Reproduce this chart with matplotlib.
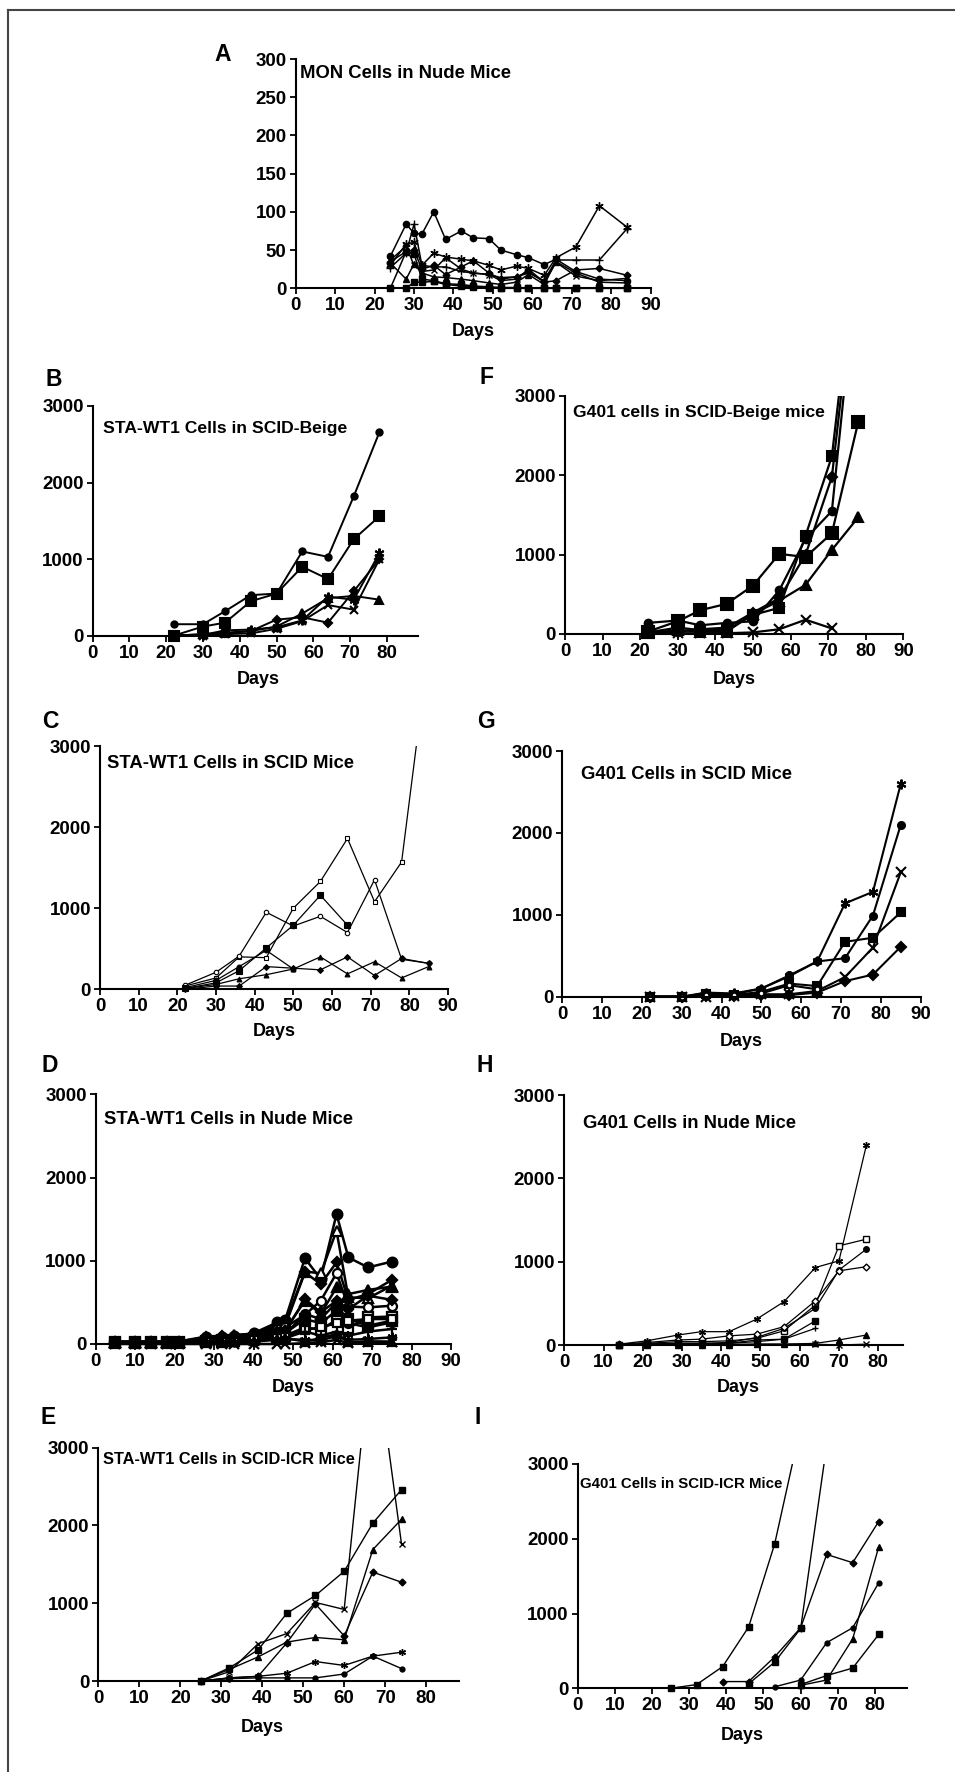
import numpy as np
import matplotlib
matplotlib.use("Agg")
import matplotlib.pyplot as plt
from matplotlib.lines import Line2D
from matplotlib.patches import Rectangle

plt.rcParams['font.family'] = ['Liberation Sans', 'DejaVu Sans']
plt.rcParams['font.weight'] = 'bold'

# ---------------- data ----------------
# A: MON cells in nude mice
A_days = [24, 28, 30, 32, 35, 38, 42, 45, 49, 52, 56, 59, 63, 66, 71, 77, 84]
A_circle = [42, 84, 72, 71, 100, 64, 75, 66, 65, 50, 44, 40, 31, 38, 22, 12, 10]
A_star = [30, 58, 60, 30, 46, 41, 38, 36, 30, 24, 29, 26, 17, 40, 54, 108, 80]
A_plus = [27, 46, 84, 30, 28, 28, 22, 20, 18, 14, 15, 20, 10, 37, 37, 37, 78]
A_diamond = [35, 48, 50, 25, 30, 18, 28, 36, 20, 12, 15, 22, 8, 10, 24, 26, 17]
A_triangle = [33, 12, 32, 20, 15, 14, 12, 10, 7, 5, 8, 18, 5, 35, 20, 8, 7]
A_x = [37, 55, 30, 22, 24, 40, 25, 20, 18, 10, 12, 25, 8, 34, 16, 10, 13]
A_square1 = [0, 48, 45, 12, 10, 6, 5, 3, 2, 1, 1, 0, 0, 0, 0, 0, 0]
A_square2 = [None, 0, 8, 8, 9, 5, 3, 2, 1, 0, 0, 0, 0, 0, 0, 0, 0]

# B: STA-WT1 cells in SCID-Beige
B_days = [22, 30, 36, 43, 50, 57, 64, 71, 78]
B_circle = [150, 150, 320, 530, 550, 1100, 1030, 1820, 2660]
B_square = [0, 120, 170, 450, 550, 900, 740, 1260, 1560]
B_triangle = [0, 20, 30, 60, 120, 290, 490, 520, 470]
B_star = [0, 10, 70, 80, 110, 200, 510, 470, 1080]
B_x = [0, 0, 20, 30, 90, 190, 400, 340, 1000]
B_diamond = [0, 20, 40, 60, 210, 240, 170, 580, 1000]

# F: G401 cells in SCID-Beige
F_days = [22, 30, 36, 43, 50, 57, 64, 71, 78]
F_square1 = [30, 160, 300, 380, 610, 1010, 970, 1270, 2670]
F_square2 = [20, 80, 50, 50, 240, 330, 1240, 2240, 5100]
F_diamond = [20, 30, 60, 80, 270, 450, 1000, 1980, 4900]
F_circle = [140, 170, 110, 140, 160, 550, 1200, 1550, 4800]
F_triangle = [10, 50, 30, 30, 250, 420, 620, 1060, 1470]
F_x = [10, 10, 10, 10, 20, 60, 180, 70, None]

# C: STA-WT1 cells in SCID mice
C_days = [22, 30, 36, 43, 50, 57, 64, 71, 78, 85]
C_osquare = [40, 140, 400, 390, 1000, 1330, 1860, 1080, 1570, 4200]
C_odiamond = [50, 210, 410, 950, 780, 900, 700, 1350, 370, 320]
C_square = [10, 80, 230, 510, 790, 1160, 790, None, None, None]
C_circle = [20, 110, 280, 480, 250, None, None, None, None, None]
C_triangle = [10, 60, 130, 180, 250, 400, 190, 340, 140, 280]
C_diamond = [0, 40, 40, 280, 260, 240, 400, 170, 380, 320]

# G: G401 cells in SCID mice
G_days = [22, 30, 36, 43, 50, 57, 64, 71, 78, 85]
G_star = [0, 0, 50, 40, 100, 250, 430, 1140, 1280, 2600]
G_circle = [0, 0, 40, 30, 100, 260, 430, 470, 990, 2100]
G_x = [0, 0, 0, 10, 30, 30, 70, 240, 600, 1520]
G_square = [0, 0, 30, 20, 60, 160, 130, 670, 720, 1030]
G_diamond = [0, 0, 10, 10, 20, 20, 50, 190, 270, 610]
G_ocircle = [0, 0, 20, 20, 40, 140, 90, None, None, None]

# D: STA-WT1 cells in nude mice
D_days = [5, 10, 14, 18, 21, 28, 32, 35, 40, 46, 48, 53, 57, 61, 64, 69, 75]
D_circle1 = [30, 30, 30, 30, 30, 80, 90, 100, 130, 260, 290, 1030, 780, 1560, 1040, 920, 990]
D_otri = [20, 20, 20, 20, 20, 70, 80, 110, 120, 230, 250, 870, 850, 1360, 560, 550, 700]
D_diamond1 = [30, 30, 30, 30, 30, 90, 100, 90, 120, 200, 220, 860, 720, 980, 530, 600, 770]
D_ocircle = [20, 20, 20, 20, 20, 60, 70, 80, 100, 180, 200, 350, 520, 850, 450, 440, 460]
D_triangle = [20, 20, 20, 20, 20, 50, 60, 70, 90, 150, 170, 520, 360, 680, 600, 650, 690]
D_diamond2 = [20, 20, 20, 20, 20, 50, 50, 60, 80, 140, 150, 540, 380, 520, 420, 580, 530]
D_osquare1 = [10, 10, 10, 10, 10, 30, 30, 40, 60, 80, 100, 200, 170, 290, 190, 320, 330]
D_square = [20, 20, 20, 20, 20, 40, 50, 50, 70, 110, 130, 300, 250, 400, 300, 220, 280]
D_circle2 = [20, 20, 20, 20, 20, 40, 40, 50, 60, 100, 120, 360, 300, 500, 250, 200, 260]
D_osquare2 = [10, 10, 10, 10, 10, 20, 30, 30, 50, 70, 80, 170, 200, 250, 280, 300, 300]
D_plus = [10, 10, 10, 10, 10, 20, 30, 30, 40, 60, 70, 150, 100, 150, 100, 150, 180]
D_star = [10, 10, 10, 10, 10, 20, 20, 20, 30, 50, 60, 50, 40, 100, 50, 60, 80]
D_tri2 = [10, 10, 10, 10, 10, 20, 20, 30, 40, 60, 70, 30, 70, 120, 20, 30, 20]
D_x = [0, 0, 0, 0, 0, 0, 0, 0, 0, 0, 0, 10, 20, 50, 10, 30, 30]

# H: G401 cells in nude mice
H_days = [14, 21, 29, 35, 42, 49, 56, 64, 70, 77]
H_star = [10, 50, 120, 160, 160, 310, 520, 930, 1010, 2400]
H_osquare = [0, 20, 40, 40, 50, 80, 170, 480, 1190, 1270]
H_circle = [0, 10, 20, 20, 30, 90, 200, 440, 900, 1150]
H_odiamond = [10, 30, 60, 70, 110, 130, 220, 530, 890, 940]
H_square = [0, 10, 20, 20, 20, 60, 70, 290, None, None]
H_plus = [0, 10, 10, 10, 20, 40, 70, 200, None, None]
H_triangle = [0, 0, 0, 0, 0, 10, 10, 20, 60, 120]
H_x = [0, 0, 10, 10, 10, 10, 10, 10, 0, 10]

# E: STA-WT1 cells in SCID-ICR mice
E_days = [25, 32, 39, 46, 53, 60, 67, 74]
E_square = [0, 170, 400, 870, 1100, 1410, 2030, 2460]
E_triangle = [0, 150, 310, 500, 560, 530, 1690, 2080]
E_x = [0, 120, 480, 610, 1010, 920, 4500, 1760]
E_diamond = [0, 40, 60, 490, 990, 580, 1400, 1270]
E_star = [0, 40, 60, 100, 250, 200, 320, 370]
E_circle = [0, 30, 40, 40, 40, 90, 320, 160]

# I: G401 cells in SCID-ICR mice
I_days = [25, 32, 39, 46, 53, 60, 67, 74, 81]
I_square1 = [0, 50, 290, 820, 1930, 3500, None, None, None]
I_square2 = [None, None, None, 60, 350, 800, 3250, None, None]
I_diamond = [None, None, 90, 90, 420, 810, 1790, 1680, 2230]
I_circle = [None, None, None, None, 20, 110, 610, 810, 1410]
I_triangle = [None, None, None, None, None, 40, 110, 660, 1890]
I_square3 = [None, None, None, None, None, 50, 170, 270, 720]

# ---------------- figure ----------------
W, H = 955, 1772
fig = plt.figure(figsize=(W / 100, H / 100), dpi=100)

TICK_FS = 13.5
DAYS_FS = 13
LETTER_FS = 16.5


def arr(v):
    return np.array([np.nan if x is None else x for x in v], dtype=float)


def fx(x):
    return x / W


def fy(y):
    return 1 - y / H


def make_axes(x0, x1, ytop, ybot, xmax, ymax, xticks, yticks):
    ax = fig.add_axes([fx(x0), fy(ybot), fx(x1 - x0), (ybot - ytop) / H])
    ax.set_xlim(0, xmax)
    ax.set_ylim(0, ymax)
    ax.set_xticks(xticks)
    ax.set_yticks(yticks)
    for s in ['top', 'right']:
        ax.spines[s].set_visible(False)
    for s in ['left', 'bottom']:
        ax.spines[s].set_linewidth(1.5)
    ax.tick_params(direction='out', length=4, width=1.3, pad=2.5,
                   labelsize=TICK_FS)
    for lab in ax.get_xticklabels() + ax.get_yticklabels():
        lab.set_fontweight('bold')
    ax.patch.set_alpha(0)
    return ax


def draw(ax, days, vals, marker, ms, lw, mfc='black', mew=1.0):
    line, = ax.plot(days, arr(vals), color='black', lw=lw, marker=marker,
                    ms=ms, mfc=mfc, mec='black', mew=mew)
    clip = Rectangle((-0.05, -0.08), 1.1, 1.08, transform=ax.transAxes)
    line.set_clip_path(clip)
    return line


def label(x, y, s, size=LETTER_FS, ha='center', va='center'):
    fig.text(fx(x), fy(y), s, fontsize=size, fontweight='bold', ha=ha, va=va)


AST = (6, 2, 0)
x90 = list(range(0, 91, 10))
x80 = list(range(0, 81, 10))
y3k = [0, 1000, 2000, 3000]

# border
fig.add_artist(Line2D([fx(7.5), fx(W + 5)], [fy(10), fy(10)], color='#444444', lw=1.5, transform=fig.transFigure))
fig.add_artist(Line2D([fx(7.5), fx(7.5)], [fy(10), fy(H + 5)], color='#444444', lw=1.5, transform=fig.transFigure))

# Panel A
ax = make_axes(295.7, 650.7, 59, 288.3, 90, 300, x90, [0, 50, 100, 150, 200, 250, 300])
for vals, m, ms, mfc in [(A_circle, 'o', 4.5, 'black'), (A_star, AST, 6, 'black'),
                         (A_plus, '+', 6, 'black'), (A_diamond, 'D', 3.5, 'black'),
                         (A_triangle, '^', 4, 'black'), (A_x, 'x', 5, 'black'),
                         (A_square1, 's', 5, 'black'), (A_square2, 's', 5, 'black')]:
    draw(ax, A_days, vals, m, ms, 1.1, mfc)
label(223, 54.5, 'A')
label(300, 73, 'MON Cells in Nude Mice', 13.3, ha='left')
label(473, 332, 'Days', DAYS_FS)

# Panel B
ax = make_axes(92.7, 417.7, 406, 635.7, 88.4, 3000, x80, y3k)
for vals, m, ms, mfc in [(B_circle, 'o', 4.5, 'black'), (B_square, 's', 6.5, 'black'),
                         (B_triangle, '^', 5.5, 'black'), (B_star, AST, 7, 'black'),
                         (B_x, 'x', 6, 'black'), (B_diamond, 'D', 4.5, 'black')]:
    draw(ax, B_days, vals, m, ms, 1.4, mfc, mew=1.5)
label(54, 380, 'B')
label(103, 428, 'STA-WT1 Cells in SCID-Beige', 12.6, ha='left')
label(258, 679, 'Days', DAYS_FS)

# Panel F
ax = make_axes(565, 903.3, 396, 634, 90, 3000, x90, y3k)
for vals, m, ms, mfc in [(F_square1, 's', 8.5, 'black'), (F_square2, 's', 7, 'black'),
                         (F_diamond, 'D', 5, 'black'), (F_circle, 'o', 5.5, 'black'),
                         (F_triangle, '^', 6.5, 'black'), (F_x, 'x', 6.5, 'black')]:
    draw(ax, F_days, vals, m, ms, 1.6, mfc, mew=1.5)
label(486, 377, 'F')
label(573, 413, 'G401 cells in SCID-Beige mice', 12.6, ha='left')
label(734, 679, 'Days', DAYS_FS)

# Panel C
ax = make_axes(100, 448, 746, 989.3, 90, 3000, x90, y3k)
for vals, m, ms, mfc in [(C_osquare, 's', 3.5, 'white'), (C_odiamond, 'o', 3.2, 'white'),
                         (C_square, 's', 4.5, 'black'), (C_circle, 'o', 3.5, 'black'),
                         (C_triangle, '^', 3.5, 'black'), (C_diamond, 'D', 3, 'black')]:
    draw(ax, C_days, vals, m, ms, 0.9, mfc, mew=0.8)
label(50, 722, 'C')
label(107, 764, 'STA-WT1 Cells in SCID Mice', 13.3, ha='left')
label(274, 1032, 'Days', DAYS_FS)

# Panel G
ax = make_axes(562.3, 920.7, 751, 996.7, 90, 3000, x90, y3k)
for vals, m, ms, mfc in [(G_star, AST, 7, 'black'), (G_circle, 'o', 5, 'black'),
                         (G_x, 'x', 6.5, 'black'), (G_square, 's', 6, 'black'),
                         (G_diamond, 'D', 5, 'black'), (G_ocircle, 'o', 4, 'white')]:
    draw(ax, G_days, vals, m, ms, 1.5, mfc, mew=1.5)
label(486, 722, 'G')
label(580.7, 774, 'G401 Cells in SCID Mice', 13.3, ha='left')
label(741.5, 1042, 'Days', DAYS_FS)

# Panel D
ax = make_axes(95.7, 451, 1094.3, 1344, 90, 3000, x90, y3k)
for vals, m, ms, mfc in [(D_circle1, 'o', 7, 'black'), (D_otri, '^', 7, 'white'),
                         (D_diamond1, 'D', 5.5, 'black'), (D_ocircle, 'o', 6.5, 'white'),
                         (D_triangle, '^', 6.5, 'black'), (D_diamond2, 'D', 5.5, 'black'),
                         (D_osquare1, 's', 6.5, 'white'), (D_square, 's', 6.5, 'black'),
                         (D_circle2, 'o', 6.5, 'black'), (D_osquare2, 's', 6, 'white'),
                         (D_plus, '+', 7, 'black'), (D_star, AST, 7, 'black'),
                         (D_tri2, '^', 6, 'black'), (D_x, 'x', 7, 'black')]:
    draw(ax, D_days, vals, m, ms, 1.8, mfc, mew=1.6)
label(50, 1066, 'D')
label(104, 1119, 'STA-WT1 Cells in Nude Mice', 13.3, ha='left')
label(293, 1388, 'Days', DAYS_FS)

# Panel H
ax = make_axes(564.3, 903.3, 1095, 1345, 86.4, 3000, x80, y3k)
for vals, m, ms, mfc in [(H_star, AST, 5, 'black'), (H_osquare, 's', 4.5, 'white'),
                         (H_circle, 'o', 4, 'black'), (H_odiamond, 'D', 3.5, 'white'),
                         (H_square, 's', 4.5, 'black'), (H_plus, '+', 5, 'black'),
                         (H_triangle, '^', 4, 'black'), (H_x, 'x', 5, 'black')]:
    draw(ax, H_days, vals, m, ms, 0.9, mfc, mew=1.0)
label(485, 1066, 'H')
label(582.7, 1123, 'G401 Cells in Nude Mice', 13.3, ha='left')
label(738, 1388, 'Days', DAYS_FS)

# Panel E
ax = make_axes(98.3, 459.3, 1447.7, 1681, 88.1, 3000, x80, y3k)
for vals, m, ms, mfc in [(E_square, 's', 5, 'black'), (E_triangle, '^', 4.5, 'black'),
                         (E_x, 'x', 5, 'black'), (E_diamond, 'D', 3.5, 'black'),
                         (E_star, AST, 5, 'black'), (E_circle, 'o', 3.5, 'black')]:
    draw(ax, E_days, vals, m, ms, 1.0, mfc, mew=1.0)
label(48, 1418, 'E')
label(102.7, 1460, 'STA-WT1 Cells in SCID-ICR Mice', 11.8, ha='left')
label(262, 1727, 'Days', DAYS_FS)

# Panel I
ax = make_axes(577.7, 907.3, 1464, 1688.3, 88.7, 3000, x80, y3k)
for vals, m, ms, mfc in [(I_square1, 's', 5, 'black'), (I_square2, 's', 5, 'black'),
                         (I_diamond, 'D', 3.5, 'black'), (I_circle, 'o', 3.5, 'black'),
                         (I_triangle, '^', 4, 'black'), (I_square3, 's', 5, 'black')]:
    draw(ax, I_days, vals, m, ms, 1.0, mfc, mew=1.0)
label(478, 1418, 'I')
label(580, 1484, 'G401 Cells in SCID-ICR Mice', 10.8, ha='left')
label(742.5, 1735, 'Days', DAYS_FS)

fig.savefig('out.png', dpi=100)
